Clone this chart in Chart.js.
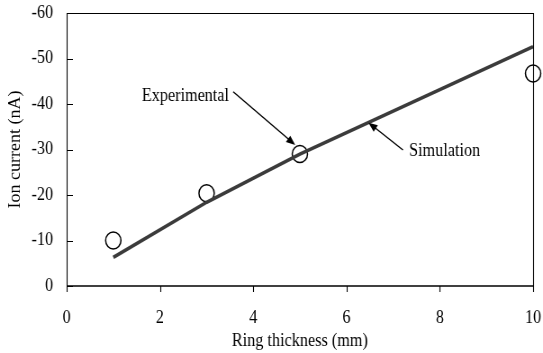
<!DOCTYPE html>
<html>
<head>
<meta charset="utf-8">
<script src="https://cdn.jsdelivr.net/npm/chart.js@4/dist/chart.umd.min.js"></script>
<style>
  html, body { margin: 0; padding: 0; background: #fff; overflow: hidden; }
  #wrap { width: 543px; height: 353px; overflow: hidden; }
  canvas { display: block; transform: scale(0.9005, 1); transform-origin: 0 0; }
</style>
</head>
<body>
<div id="wrap"><canvas id="c" width="603" height="353"></canvas></div>
<script>
// Ring thickness (mm) and ion current (nA)
const expThickness = [1, 3, 5, 10];
const expCurrent   = [-10.0, -20.4, -29.0, -46.7];

const simThickness = [1, 3, 5, 10];
const simCurrent   = [-6.3, -18.4, -29.0, -52.6];

const xTicks = [0, 2, 4, 6, 8, 10];
const yTicks = [0, -10, -20, -30, -40, -50, -60];

// Callout labels: text anchor, arrow tail and arrow tip (data units)
const callouts = [
  { text: 'Experimental', at: [1.61, -40.75], from: [3.57, -42.7], to: [4.9, -31.0] },
  { text: 'Simulation',   at: [7.34, -28.6],  from: [7.21, -29.9], to: [6.47, -35.9] }
];

const FONT = 'Liberation Serif';
const FS = 18;
Chart.defaults.font.family = FONT;
Chart.defaults.color = '#000';

// Box frame, tick marks and arrow callouts
const framePlugin = {
  id: 'frame',
  afterDatasetsDraw(chart) {
    const { ctx, chartArea: a, scales: { x, y } } = chart;
    ctx.save();
    ctx.strokeStyle = '#000';
    ctx.lineWidth = 1.1;
    ctx.beginPath();
    ctx.moveTo(a.left + 0.5, a.top + 0.5);
    ctx.lineTo(a.right + 0.5, a.top + 0.5);
    ctx.lineTo(a.right + 0.5, a.bottom);
    ctx.moveTo(a.left + 0.5, a.top);
    ctx.lineTo(a.left + 0.5, a.bottom);
    ctx.stroke();

    ctx.lineWidth = 1.6;
    ctx.beginPath();
    ctx.moveTo(a.left, a.bottom);
    ctx.lineTo(a.right + 1, a.bottom);
    ctx.stroke();

    // x ticks point outward, y ticks point inward
    ctx.lineWidth = 1.1;
    ctx.beginPath();
    xTicks.forEach(v => {
      const px = Math.round(x.getPixelForValue(v)) + 0.5;
      ctx.moveTo(px, a.bottom);
      ctx.lineTo(px, a.bottom + 6);
    });
    yTicks.forEach(v => {
      const py = Math.round(y.getPixelForValue(v)) + 0.5;
      ctx.moveTo(a.left, py);
      ctx.lineTo(a.left + 7, py);
    });
    ctx.stroke();

    // callouts
    ctx.font = FS + 'px "' + FONT + '"';
    ctx.fillStyle = '#000';
    ctx.textBaseline = 'alphabetic';
    ctx.textAlign = 'left';
    callouts.forEach(c => {
      ctx.fillText(c.text, x.getPixelForValue(c.at[0]), y.getPixelForValue(c.at[1]));
      const x0 = x.getPixelForValue(c.from[0]), y0 = y.getPixelForValue(c.from[1]);
      const x1 = x.getPixelForValue(c.to[0]),   y1 = y.getPixelForValue(c.to[1]);
      const ang = Math.atan2(y1 - y0, x1 - x0);
      const hl = 10, hw = 4;
      ctx.lineWidth = 1.4;
      ctx.beginPath();
      ctx.moveTo(x0, y0);
      ctx.lineTo(x1 - Math.cos(ang) * hl * 0.8, y1 - Math.sin(ang) * hl * 0.8);
      ctx.stroke();
      ctx.beginPath();
      ctx.moveTo(x1, y1);
      ctx.lineTo(x1 - Math.cos(ang) * hl - Math.sin(ang) * hw, y1 - Math.sin(ang) * hl + Math.cos(ang) * hw);
      ctx.lineTo(x1 - Math.cos(ang) * hl + Math.sin(ang) * hw, y1 - Math.sin(ang) * hl - Math.cos(ang) * hw);
      ctx.closePath();
      ctx.fill();
    });
    ctx.restore();
  }
};

// keep the plot box fixed regardless of tick label overhang
const noOverhang = s => { s.paddingLeft = 0; s.paddingRight = 0; s.paddingTop = 0; s.paddingBottom = 0; };

new Chart(document.getElementById('c'), {
  type: 'scatter',
  data: {
    datasets: [
      {
        label: 'Simulation',
        data: simThickness.map((t, i) => ({ x: t, y: simCurrent[i] })),
        showLine: true,
        borderColor: '#3b3b3b',
        borderWidth: 3.6,
        pointRadius: 0,
        tension: 0,
        clip: false
      },
      {
        label: 'Experimental',
        data: expThickness.map((t, i) => ({ x: t, y: expCurrent[i] })),
        showLine: false,
        pointStyle: 'circle',
        pointRadius: 8.5,
        pointBorderWidth: 1.5,
        pointBorderColor: '#000',
        pointBackgroundColor: 'rgba(0,0,0,0)',
        clip: false
      }
    ]
  },
  options: {
    responsive: false,
    animation: false,
    layout: { padding: { top: 13, right: 11, left: 0, bottom: 0 } },
    plugins: { legend: { display: false }, tooltip: { enabled: false } },
    scales: {
      x: {
        type: 'linear',
        min: 0, max: 10,
        afterBuildTicks: s => { s.ticks = xTicks.map(v => ({ value: v })); },
        afterFit: s => { s.height = 67; noOverhang(s); },
        grid: { display: false, drawTicks: false },
        border: { display: false },
        ticks: { padding: 21, font: { size: FS }, maxRotation: 0, autoSkip: false },
        title: { display: true, text: 'Ring thickness (mm)', font: { size: FS }, padding: { top: 0, bottom: 1 } }
      },
      y: {
        type: 'linear',
        reverse: true,
        min: -60, max: 0,
        afterBuildTicks: s => { s.ticks = yTicks.map(v => ({ value: v })); },
        afterFit: s => { s.width = 74; noOverhang(s); },
        grid: { display: false, drawTicks: false },
        border: { display: false },
        ticks: { padding: 15, font: { size: FS }, autoSkip: false, callback: v => String(v) },
        title: { display: true, text: 'Ion current (nA)', font: { size: FS }, padding: { top: 6, bottom: 0 } }
      }
    }
  },
  plugins: [framePlugin]
});
</script>
</body>
</html>
